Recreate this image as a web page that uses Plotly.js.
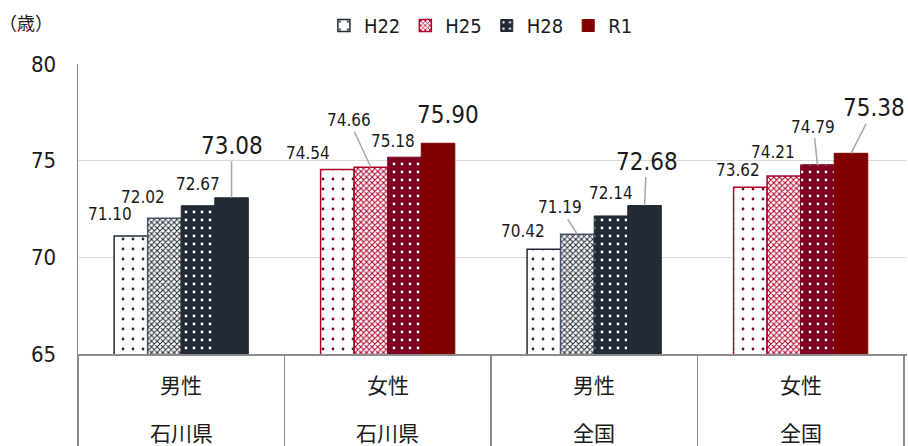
<!DOCTYPE html>
<html>
<head>
<meta charset="utf-8">
<script src="https://cdn.plot.ly/plotly-3.0.1.min.js"></script>
<style>
  html, body { margin: 0; padding: 0; background: #fff; }
  #chart { width: 908px; height: 446px; }
</style>
</head>
<body>
<div id="chart"></div>
<script>
// ==================================================
// Data
// ==================================================

const sexes = ["男性", "女性", "男性", "女性"];
const regions = ["石川県", "石川県", "全国", "全国"];
const years = ["H22", "H25", "H28", "R1"];

const h22 = [71.10, 74.54, 70.42, 73.62];
const h25 = [72.02, 74.66, 71.19, 74.21];
const h28 = [72.67, 75.18, 72.14, 74.79];
const r1 = [73.08, 75.90, 72.68, 75.38];

// label offsets (px) from bar top to label centre, and whether a leader line shows
const labelOffsets = [
  [[-21, -22, 0], [-29, -17, 0], [-21, -18, 0], [-12, -17, 0]],
  [[-21, -21, 0], [-22, -47, 1], [-17, -27, 1], [-11, -24, 0]],
  [[0, -22, 0], [-11, -16, 0], [0, -23, 0], [-4, -38, 1]],
  [[0, -52, 1], [10, -28, 0], [2, -44, 1], [23, -45, 1]],
];

// ==================================================
// Styling
// ==================================================

const NAVY = "#222a35";
const MAROON = "#800000";
const WINE = "#7e0022";
const CRIMSON = "#b0002a";
const NUM_FONT = "'Liberation Sans Narrow', 'DejaVu Sans Condensed', 'Noto Sans CJK JP', sans-serif";
const JP_FONT = "'Noto Sans CJK JP', sans-serif";

const cats = sexes.map((s, i) => s + regions[i]);
const series = [h22, h25, h28, r1];

// one style per year, per sex
function styleFor(k, male) {
  const main = male ? NAVY : WINE;
  if (k === 0) {
    return {
      color: "#ffffff",
      line: { color: male ? NAVY : CRIMSON, width: 1.5 },
      pattern: { shape: ".", fillmode: "replace", bgcolor: "#ffffff",
                 fgcolor: main, size: 10, solidity: 0.06 },
    };
  }
  if (k === 1) {
    return {
      color: "#ffffff",
      line: { color: male ? "#44546a" : CRIMSON, width: 1.5 },
      pattern: { shape: "x", fillmode: "replace", bgcolor: "#ffffff",
                 fgcolor: male ? NAVY : CRIMSON, size: 4, solidity: 0.45 },
    };
  }
  if (k === 2) {
    return {
      color: main,
      line: { color: main, width: 1 },
      pattern: { shape: ".", fillmode: "replace", bgcolor: main,
                 fgcolor: "#ffffff", size: 8, solidity: 0.1 },
    };
  }
  const solid = male ? NAVY : MAROON;
  return { color: solid, line: { color: solid, width: 1 } };
}

// legend sample follows the reference key: H22 navy, H25 red, H28 navy, R1 red
const legendMale = [true, false, true, false];

const traces = [];
series.forEach((vals, k) => {
  [true, false].forEach(male => {
    traces.push({
      type: "bar",
      name: years[k],
      x: cats,
      y: vals.map((v, i) => ((sexes[i] === "男性") === male ? v : null)),
      offsetgroup: years[k],
      legendgroup: years[k],
      showlegend: legendMale[k] === male,
      marker: styleFor(k, male),
      hoverinfo: "skip",
    });
  });
});

// ==================================================
// Annotations: value labels, category table, unit
// ==================================================

const barW = 0.65 / 4;
const annotations = [];

series.forEach((vals, k) => {
  vals.forEach((v, i) => {
    const [ax, ay, lead] = labelOffsets[k][i];
    annotations.push({
      x: i + (k - 1.5) * barW,
      y: v,
      xref: "x",
      yref: "y",
      text: v.toFixed(2),
      showarrow: true,
      arrowhead: 0,
      arrowwidth: 1.5,
      arrowcolor: lead ? "#a6a6a6" : "rgba(0,0,0,0)",
      standoff: 0,
      ax: ax,
      ay: ay,
      font: { family: NUM_FONT, size: k === 3 ? 24 : 17, color: "#1a1a1a" },
    });
  });
});

cats.forEach((c, i) => {
  annotations.push({
    x: i, y: -0.103, xref: "x", yref: "paper", yanchor: "middle",
    text: sexes[i], showarrow: false,
    font: { family: JP_FONT, size: 21, color: "#1a1a1a" },
  });
  annotations.push({
    x: i, y: -0.269, xref: "x", yref: "paper", yanchor: "middle",
    text: regions[i], showarrow: false,
    font: { family: JP_FONT, size: 21, color: "#1a1a1a" },
  });
});

annotations.push({
  x: -0.063, y: 1.145, xref: "paper", yref: "paper",
  xanchor: "center", yanchor: "middle",
  text: "（歳）", showarrow: false,
  font: { family: JP_FONT, size: 18, color: "#1a1a1a" },
});

// ==================================================
// Layout
// ==================================================

const layout = {
  width: 908,
  height: 446,
  margin: { l: 78, r: 1, t: 64, b: 92 },
  paper_bgcolor: "#ffffff",
  plot_bgcolor: "#ffffff",
  barmode: "group",
  bargap: 0.35,
  bargroupgap: 0,
  showlegend: true,
  legend: {
    orientation: "h",
    x: 0.486, xanchor: "center",
    y: 1.2, yanchor: "top",
    font: { family: NUM_FONT, size: 20, color: "#1a1a1a" },
    itemwidth: 30,
    traceorder: "normal",
  },
  xaxis: {
    type: "category",
    showticklabels: false,
    tickson: "boundaries",
    ticks: "outside",
    ticklen: 92,
    tickwidth: 1.5,
    tickcolor: "#8c8c8c",
    showline: true,
    linecolor: "#8c8c8c",
    linewidth: 1.5,
    showgrid: false,
    fixedrange: true,
  },
  yaxis: {
    range: [65, 80],
    dtick: 5,
    tick0: 65,
    showline: true,
    linecolor: "#8c8c8c",
    linewidth: 1.5,
    gridcolor: "#d9d9d9",
    gridwidth: 1.5,
    zeroline: false,
    ticks: "",
    ticklabelstandoff: 16,
    tickfont: { family: NUM_FONT, size: 22, color: "#1a1a1a" },
    fixedrange: true,
  },
  annotations: annotations,
};

Plotly.newPlot("chart", traces, layout, { displayModeBar: false, staticPlot: true });
</script>
</body>
</html>
